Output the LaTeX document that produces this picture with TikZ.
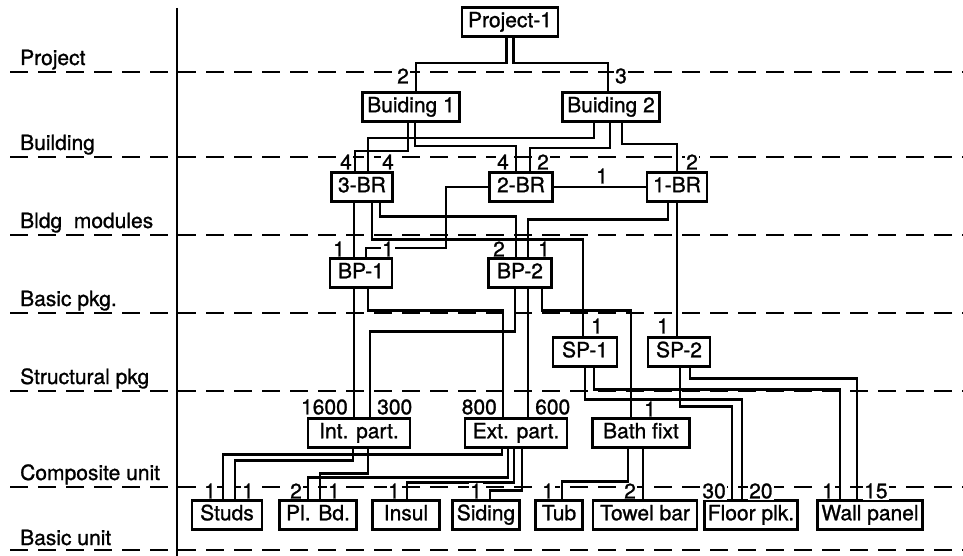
\documentclass[tikz,border=0pt]{standalone}
\usepackage{fontspec}
\setmainfont{TeX Gyre Heros}[FakeBold=1.1]
\begin{document}
\begin{tikzpicture}[x=1pt,y=-1pt,
  every node/.style={font=\fontsize{21}{25}\selectfont},
  box/.style={draw, line width=2.2pt, minimum height=29pt, inner sep=0pt,
              text height=14.5pt, text depth=4pt},
  link/.style={line width=2.8pt},
  qty/.style={fill=white, inner sep=1pt},
  level/.style={anchor=base west, inner sep=0pt},
  guide/.style={line width=2.2pt, dash pattern=on 18pt off 10pt}]
\useasboundingbox (0,0) rectangle (963,556);

% level guide lines and the axis
\foreach \yy in {72,157,235,313,391,487,550}
  \draw[guide] (10,\yy) -- (963,\yy);
\draw[line width=2.8pt] (177,8) -- (177,556);

% level names
\node[level] (lv1) at (20,65)  {Project};
\node[level] (lv2) at (20,150) {Building};
\node[level] (lv3) at (20,228) {Bldg\ \ modules};
\node[level] (lv4) at (20,306) {Basic pkg.};
\node[level] (lv5) at (20,384) {Structural pkg};
\node[level] (lv6) at (20,480) {Composite unit};
\node[level] (lv7) at (20,545) {Basic unit};

% items
\node[box, minimum width=96pt]  (p1)     at (510,22)  {Project-1};
\node[box, minimum width=97pt]  (b1)     at (411,107) {Buiding 1};
\node[box, minimum width=97pt]  (b2)     at (611,107) {Buiding 2};
\node[box, minimum width=61pt]  (br3)    at (362,187) {3-BR};
\node[box, minimum width=63pt]  (br2)    at (521,187) {2-BR};
\node[box, minimum width=60pt]  (br1)    at (677,187) {1-BR};
\node[box, minimum width=62pt]  (bp1)    at (361,273) {BP-1};
\node[box, minimum width=63pt]  (bp2)    at (520,273) {BP-2};
\node[box, minimum width=64pt]  (sp1)    at (585,352) {SP-1};
\node[box, minimum width=62pt]  (sp2)    at (679,352) {SP-2};
\node[box, minimum width=102pt] (ip)     at (359,433) {Int. part.};
\node[box, minimum width=102pt] (ep)     at (516,433) {Ext. part.};
\node[box, minimum width=97pt]  (bf)     at (641,433) {Bath fixt};
\node[box, minimum width=70pt]  (studs)  at (227,515) {Studs};
\node[box, minimum width=77pt]  (plbd)   at (318,515) {Pl. Bd.};
\node[box, minimum width=67pt]  (insul)  at (406,515) {Insul};
\node[box, minimum width=67pt]  (siding) at (486,515) {Siding};
\node[box, minimum width=47pt]  (tub)    at (559,515) {Tub};
\node[box, minimum width=104pt] (towel)  at (645,515) {Towel bar};
\node[box, minimum width=93pt]  (floor)  at (751,515) {Floor plk.};
\node[box, minimum width=105pt] (wall)   at (870,515) {Wall panel};

% project -> buildings
\draw[link] ([xshift=-3.5pt]p1.south) -- ++(0,25.5) -| ([xshift=5pt]b1.north);
\draw[link] ([xshift=3.5pt]p1.south) -- ++(0,25.5) -| ([xshift=-3pt]b2.north);

% buildings -> modules
\draw[link] ([xshift=-3pt]b1.south) -- ++(0,28.5) -| ([xshift=-7pt]br3.north);
\draw[link] ([xshift=4pt]b1.south) -- ++(0,23.5) -| ([xshift=-5pt]br2.north);
\draw[link] ([xshift=-17pt]b2.south) -- ++(0,15.5) -| ([xshift=6pt]br3.north);
\draw[link] ([xshift=-1pt]b2.south) -- ++(0,25.5) -| ([xshift=9pt]br2.north);
\draw[link] ([xshift=11pt]b2.south) -- ++(0,21.5) -| (br1.north);
\draw[link] (br2.east) -- (br1.west);

% modules -> packages
\draw[link] ([xshift=-8pt]br3.south) -- ([xshift=-7pt]bp1.north);
\draw[link] ([xshift=10pt]br3.south) -- ++(0,36.5) -| ([xshift=-2pt]sp1.north);
\draw[link] ([xshift=18pt]br3.south) -- ++(0,13.5) -| ([xshift=-4pt]bp2.north);
\draw[link] ([xshift=-9pt]br1.south) -- ++(0,16.5) -| ([xshift=8pt]bp2.north);
\draw[link] (br1.south) -- ([xshift=-2pt]sp2.north);
\draw[link] (br2.west) -- ++(-42.5,0) -- ++(0,61) -| ([xshift=5pt]bp1.north);

% packages -> composite units
\draw[link] ([xshift=-7pt]bp1.south) -- ([xshift=-5pt]ip.north);
\draw[link] ([xshift=7pt]bp1.south) -- ++(0,21.5) -| ([xshift=-13pt]ep.north);
\draw[link] ([xshift=-5pt]bp2.south) -- ++(0,42.5) -| ([xshift=11pt]ip.north);
\draw[link] ([xshift=8pt]bp2.south) -- ([xshift=12pt]ep.north);
\draw[link] ([xshift=22pt]bp2.south) -- ++(0,21.5) -| ([xshift=-10pt]bf.north);

% structural packages -> basic units
\draw[link] (sp1.south) -- ++(0,31.5) -| ([xshift=-9pt]floor.north);
\draw[link] ([xshift=9pt]sp1.south) -- ++(0,21.5) -| ([xshift=-30pt]wall.north);
\draw[link] ([xshift=1pt]sp2.south) -- ++(0,38.5) -| ([xshift=-19pt]floor.north);
\draw[link] ([xshift=11pt]sp2.south) -- ++(0,10.5) -| ([xshift=-13pt]wall.north);

% composite units -> basic units
\draw[link] ([xshift=-14pt]ep.south) -- ++(0,5.5) -| ([xshift=-4pt]studs.north);
\draw[link] ([xshift=-6pt]ip.south) -- ++(0,11.5) -| ([xshift=8pt]studs.north);
\draw[link] ([xshift=9pt]ip.south) -- ++(0,24.5) -| ([xshift=2pt]plbd.north);
\draw[link] ([xshift=-8pt]ep.south) -- ++(0,28.5) -| ([xshift=-10pt]plbd.north);
\draw[link] ([xshift=-2pt]ep.south) -- ++(0,33.5) -| ([xshift=1pt]insul.north);
\draw[link] ([xshift=6pt]ep.south) -- ++(0,41.5) -| ([xshift=4pt]siding.north);
\draw[link] ([xshift=-13pt]bf.south) -- ++(0,32.5) -| ([xshift=3pt]tub.north);
\draw[link] ([xshift=2pt]bf.south) -- ([xshift=-2pt]towel.north);

% quantities
\node[qty] (q1)  at (403,76)  {2};
\node[qty] (q2)  at (621,76)  {3};
\node[qty] (q3)  at (346,162) {4};
\node[qty] (q4)  at (388,162) {4};
\node[qty] (q5)  at (503,162) {4};
\node[qty] (q6)  at (543,162) {2};
\node[qty] (q7)  at (692,162) {2};
\node[qty] (q8)  at (602,176) {1};
\node[qty] (q9)  at (339,249) {1};
\node[qty] (q10) at (388,249) {1};
\node[qty] (q11) at (499,249) {2};
\node[qty] (q12) at (544,249) {1};
\node[qty] (q13) at (597,326) {1};
\node[qty] (q14) at (663,326) {1};
\node[qty, anchor=east] (q15) at (349,407) {1600};
\node[qty, anchor=west] (q16) at (376,407) {300};
\node[qty, anchor=east] (q17) at (498,407) {800};
\node[qty, anchor=west] (q18) at (534,407) {600};
\node[qty] (q19) at (650,409) {1};
\node[qty] (q20) at (210,491) {1};
\node[qty] (q21) at (248,491) {1};
\node[qty] (q22) at (296,491) {2};
\node[qty] (q23) at (334,491) {1};
\node[qty] (q24) at (394,491) {1};
\node[qty] (q25) at (476,491) {1};
\node[qty] (q26) at (548,491) {1};
\node[qty] (q27) at (630,491) {2};
\node[qty, anchor=east] (q28) at (727,491) {30};
\node[qty, anchor=west] (q29) at (748,491) {20};
\node[qty, anchor=east] (q30) at (835,491) {1};
\node[qty, anchor=west] (q31) at (863,491) {15};
\end{tikzpicture}
\end{document}
